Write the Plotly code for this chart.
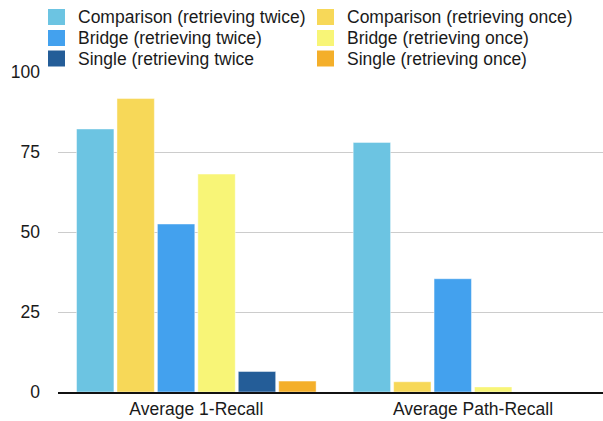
import plotly.graph_objects as go

# Recall metrics (%) for each question type and retrieval strategy
categories = ["Average 1-Recall", "Average Path-Recall"]
series_names = [
    "Comparison (retrieving twice)",
    "Comparison (retrieving once)",
    "Bridge (retrieving twice)",
    "Bridge (retrieving once)",
    "Single (retrieving twice",
    "Single (retrieving once)",
]
comparison_twice = [82.2, 78.0]
comparison_once = [91.7, 3.2]
bridge_twice = [52.5, 35.4]
bridge_once = [68.1, 1.6]
single_twice = [6.4, 0.0]
single_once = [3.4, 0.0]
y_ticks = [0, 25, 50, 75, 100]

series_values = [comparison_twice, comparison_once, bridge_twice,
                 bridge_once, single_twice, single_once]
colors = ["#6CC4E2", "#F7D858", "#43A1EE", "#F8F577", "#245D98", "#F4AF2A"]

FONT = "Liberation Sans, Arial, Helvetica, sans-serif"
TEXT = "#1a1a1a"
W, H = 603, 421
ML, MR, MT, MB = 58, 0, 72, 29
PW, PH = W - ML - MR, H - MT - MB

fig = go.Figure()
for name, vals, col in zip(series_names, series_values, colors):
    fig.add_trace(go.Bar(
        x=categories, y=vals, name=name,
        marker=dict(color=col, line=dict(color="rgba(255,255,255,0.45)", width=1)),
        showlegend=False,
    ))

# Two-column legend: "twice" entries on the left, "once" entries on the right
def px_x(p):
    return (p - ML) / PW

def px_y(p):
    return (H - MB - p) / PH

col_swatch_x = [48, 317]
col_text_x = [76, 345]
row_top = [9, 30, 50.5]
sw_w, sw_h = 17, 16
for i, (name, col) in enumerate(zip(series_names, colors)):
    r, c = i // 2, i % 2
    x0 = col_swatch_x[c]
    y0 = row_top[r]
    fig.add_shape(type="rect", xref="paper", yref="paper",
                  x0=px_x(x0), x1=px_x(x0 + sw_w),
                  y0=px_y(y0 + sw_h), y1=px_y(y0),
                  line=dict(width=0), fillcolor=col)
    fig.add_annotation(xref="paper", yref="paper",
                       x=px_x(col_text_x[c]), y=px_y(y0 + sw_h / 2 + 0.5),
                       xanchor="left", yanchor="middle", showarrow=False,
                       text=name, font=dict(family=FONT, size=17.5, color=TEXT))

fig.update_layout(
    width=W, height=H,
    margin=dict(l=ML, r=MR, t=MT, b=MB, pad=0),
    paper_bgcolor="white", plot_bgcolor="white",
    barmode="group", bargap=0.123, bargroupgap=0.075,
    font=dict(family=FONT, size=17.5, color=TEXT),
    showlegend=False,
)
fig.update_xaxes(
    range=[-0.5, 1.47], showgrid=False,
    showline=True, linecolor="#111111", linewidth=2,
    ticks="", tickfont=dict(size=17.5, color=TEXT),
)
fig.update_yaxes(
    range=[0, 100], tickvals=y_ticks, ticktext=[str(v) for v in y_ticks],
    showgrid=True, gridcolor="#cccccc", gridwidth=1,
    zeroline=False, showline=False, ticks="",
    ticklabelstandoff=17, tickfont=dict(size=17.5, color=TEXT),
)

fig.write_html("out.html")
